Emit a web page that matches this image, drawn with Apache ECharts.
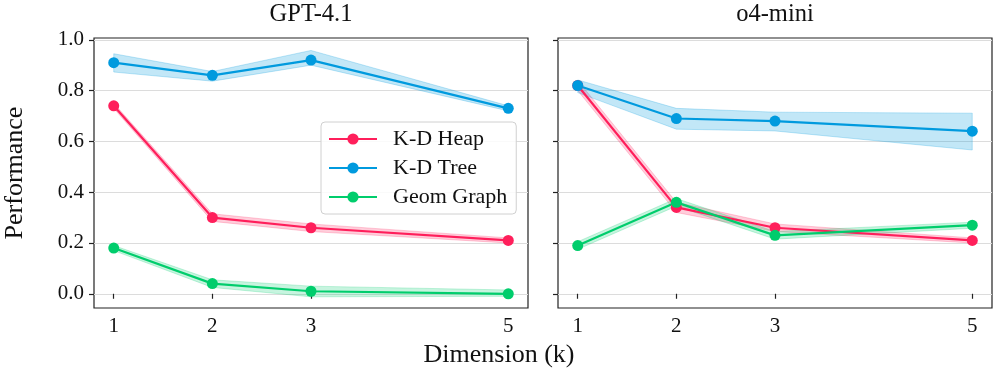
<!DOCTYPE html>
<html>
<head>
<meta charset="utf-8">
<script src="https://cdn.jsdelivr.net/npm/echarts@6/dist/echarts.min.js"></script>
<style>
  html, body { margin: 0; padding: 0; background: #fff; }
  #chart { width: 996px; height: 373px; }
</style>
</head>
<body>
<div id="chart"></div>
<script>
// x values (dimension k) and y ticks
const dims = [1, 2, 3, 5];
const yTicks = [0, 0.2, 0.4, 0.6, 0.8, 1.0];
const panelTitles = ["GPT-4.1", "o4-mini"];
const seriesNames = ["K-D Heap", "K-D Tree", "Geom Graph"];

// GPT-4.1 panel
const gptHeap = [0.74, 0.30, 0.26, 0.21];
const gptHeapLo = [0.73, 0.285, 0.245, 0.20];
const gptHeapHi = [0.75, 0.315, 0.275, 0.22];
const gptTree = [0.91, 0.86, 0.92, 0.73];
const gptTreeLo = [0.873, 0.837, 0.90, 0.72];
const gptTreeHi = [0.945, 0.875, 0.958, 0.74];
const gptGeom = [0.18, 0.04, 0.01, 0.0];
const gptGeomLo = [0.17, 0.025, -0.012, -0.01];
const gptGeomHi = [0.19, 0.055, 0.03, 0.015];

// o4-mini panel
const o4Heap = [0.82, 0.34, 0.26, 0.21];
const o4HeapLo = [0.80, 0.32, 0.245, 0.20];
const o4HeapHi = [0.84, 0.36, 0.275, 0.22];
const o4Tree = [0.82, 0.69, 0.68, 0.64];
const o4TreeLo = [0.792, 0.648, 0.641, 0.566];
const o4TreeHi = [0.842, 0.73, 0.715, 0.711];
const o4Geom = [0.19, 0.36, 0.23, 0.27];
const o4GeomLo = [0.175, 0.345, 0.215, 0.258];
const o4GeomHi = [0.205, 0.375, 0.245, 0.282];

const colors = ["#FF1F5B", "#009ADE", "#00CD6C"];
const bandColors = ["rgba(255,31,91,0.22)", "rgba(0,154,222,0.24)", "rgba(0,205,108,0.22)"];
const serif = "'Liberation Serif', 'DejaVu Serif', serif";

const panels = [
  { mid: [gptHeap, gptTree, gptGeom], lo: [gptHeapLo, gptTreeLo, gptGeomLo], hi: [gptHeapHi, gptTreeHi, gptGeomHi] },
  { mid: [o4Heap, o4Tree, o4Geom], lo: [o4HeapLo, o4TreeLo, o4GeomLo], hi: [o4HeapHi, o4TreeHi, o4GeomHi] }
];

// band between lo and hi, drawn as one polygon through the axes' coord()
function bandRenderer(color) {
  return function (params, api) {
    if (params.dataIndexInside !== 0) return null;
    const n = params.dataInsideLength;
    const top = [], bot = [];
    for (let i = 0; i < n; i++) {
      top.push(api.coord([api.value(0, i), api.value(2, i)]));
      bot.push(api.coord([api.value(0, i), api.value(1, i)]));
    }
    return {
      type: "polygon",
      shape: { points: top.concat(bot.reverse()) },
      style: { fill: color, stroke: color, lineWidth: 1 }
    };
  };
}

const series = [];
panels.forEach((p, gi) => {
  for (let s = 0; s < 3; s++) {
    series.push({
      type: "custom", xAxisIndex: gi, yAxisIndex: gi, silent: true, z: 2,
      data: dims.map((d, i) => [d, p.lo[s][i], p.hi[s][i]]),
      encode: { x: 0, y: [1, 2] },
      renderItem: bandRenderer(bandColors[s])
    });
    series.push({
      name: seriesNames[s], type: "line", xAxisIndex: gi, yAxisIndex: gi,
      data: dims.map((d, i) => [d, p.mid[s][i]]),
      symbol: "circle", symbolSize: 11,
      lineStyle: { width: 2.2, color: colors[s] },
      itemStyle: { color: colors[s] },
      z: 3
    });
  }
});

const grids = [
  { left: 94, right: 468, top: 38, bottom: 65 },
  { left: 558, right: 4, top: 38, bottom: 65 }
].map(g => Object.assign(g, { show: true, borderColor: "#222", borderWidth: 1.2, backgroundColor: "transparent" }));

const xAxes = grids.map((g, i) => ({
  type: "value", gridIndex: i, min: 0.8, max: 5.2,
  axisLine: { show: false },
  axisTick: { customValues: dims, length: 5, lineStyle: { color: "#222", width: 1.2 } },
  axisLabel: { customValues: dims, fontSize: 21, fontFamily: serif, color: "#111", margin: 8 },
  splitLine: { show: false }
}));

const yAxes = grids.map((g, i) => ({
  type: "value", gridIndex: i, min: -0.056, max: 1.007,
  axisLine: { show: false },
  axisTick: { customValues: yTicks, length: 5, lineStyle: { color: "#222", width: 1.2 } },
  axisLabel: {
    show: i === 0, customValues: yTicks, fontSize: 21, fontFamily: serif, color: "#111", margin: 10,
    formatter: v => v.toFixed(1)
  },
  splitLine: { show: true, lineStyle: { color: "#dcdcdc", width: 1 } },
  name: i === 0 ? "Performance" : "",
  nameLocation: "middle", nameGap: 66,
  nameTextStyle: { fontSize: 26, fontFamily: serif, color: "#111" }
}));

const chart = echarts.init(document.getElementById("chart"));
chart.setOption({
  animation: false,
  backgroundColor: "#fff",
  grid: grids,
  xAxis: xAxes,
  yAxis: yAxes,
  legend: {
    data: seriesNames,
    orient: "vertical",
    left: 321, top: 122,
    padding: [6, 9, 6, 7],
    itemWidth: 48, itemHeight: 14, itemGap: 7,
    backgroundColor: "rgba(255,255,255,0.85)",
    borderColor: "#d0d0d0", borderWidth: 1, borderRadius: 4,
    formatter: n => "  " + n,
    textStyle: { fontSize: 22, fontFamily: serif, color: "#111" }
  },
  graphic: [
    { type: "text", x: 311, y: 2, style: { text: panelTitles[0], font: "24.5px " + serif, fill: "#111", textAlign: "center", textVerticalAlign: "top" } },
    { type: "text", x: 775, y: 2, style: { text: panelTitles[1], font: "24.5px " + serif, fill: "#111", textAlign: "center", textVerticalAlign: "top" } },
    { type: "text", x: 499, y: 342, style: { text: "Dimension (k)", font: "26px " + serif, fill: "#111", textAlign: "center", textVerticalAlign: "top" } }
  ],
  series: series
});
</script>
</body>
</html>
